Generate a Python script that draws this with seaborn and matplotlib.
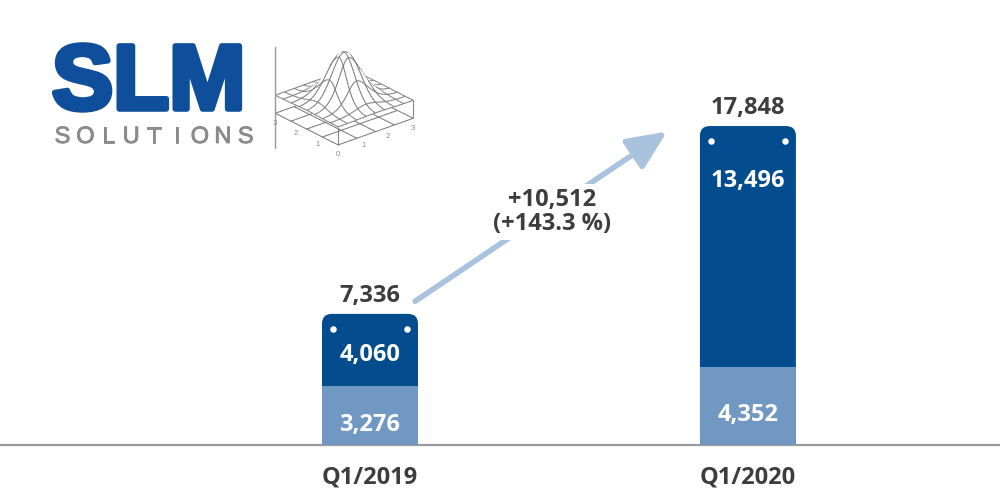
import numpy as np
import pandas as pd
import matplotlib
matplotlib.use("Agg")
import matplotlib.pyplot as plt
import matplotlib.patheffects as pe
import seaborn as sns
from matplotlib.patches import FancyBboxPatch, FancyArrowPatch
from matplotlib.collections import PolyCollection

quarters = ["Q1/2019", "Q1/2020"]
lower_part = [3276, 4352]
upper_part = [4060, 13496]
totals = [a + b for a, b in zip(lower_part, upper_part)]

dark_blue = "#034C8D"
light_blue = "#7198C3"
arrow_blue = "#A9C2DE"
text_grey = "#3D3D3D"
logo_blue = "#0F4E9B"
logo_grey = "#8A8A8A"
mesh_grey = "#7A7A7A"

sns.set_theme(style="white")
plt.rcParams["font.family"] = ["Open Sans", "DejaVu Sans"]

fig = plt.figure(figsize=(10, 5), dpi=100)
ax = fig.add_axes([0, 0.11, 1, 0.89])

df = pd.DataFrame({"Quarter": quarters, "Total": totals, "Lower": lower_part})

bar_w = 0.254
sns.barplot(data=df, x="Quarter", y="Total", color=dark_blue, width=bar_w,
            saturation=1, ax=ax)
# swap the dark bars for ones with rounded tops
for p in list(ax.patches):
    x0, y0 = p.get_x(), p.get_y()
    w, h = p.get_width(), p.get_height()
    p.remove()
    ax.add_patch(FancyBboxPatch((x0, y0), w, h,
                                boxstyle="round,pad=0,rounding_size=0.026",
                                mutation_aspect=21000, fc=dark_blue, ec="none",
                                zorder=2))
sns.barplot(data=df, x="Quarter", y="Lower", color=light_blue, width=bar_w,
            saturation=1, ax=ax, zorder=3)
for p in ax.patches:
    p.set_edgecolor("none")

ax.set_xlim(-0.979, 1.667)
ax.set_ylim(0, 24900)
px_y = 24900 / 445.0

# white dots on the top corners
for i, t in enumerate(totals):
    ax.scatter([i - bar_w / 2 + 0.029, i + bar_w / 2 - 0.029],
               [t - 15 * px_y] * 2, s=22, color="white", zorder=5, linewidths=0)

lbl = dict(ha="center", va="center", fontsize=17, fontweight="bold")
for i in range(len(quarters)):
    ax.text(i, totals[i] + 18 * px_y, f"{totals[i]:,}", color=text_grey, **lbl)
    seg_mid = lower_part[i] + upper_part[i] / 2
    y_up = max(seg_mid - 5 * px_y, totals[i] - 55 * px_y)
    ax.text(i, y_up, f"{upper_part[i]:,}", color="white", zorder=6, **lbl)
    ax.text(i, lower_part[i] / 2 - 9 * px_y, f"{lower_part[i]:,}", color="white",
            zorder=6, **lbl)

# growth arrow
diff = totals[1] - totals[0]
pct = diff / totals[0] * 100
arrow = FancyArrowPatch((0.113, totals[0] + 11 * px_y), (0.792, totals[1] - 4 * px_y),
                        arrowstyle="-|>,head_length=1.0,head_width=0.45",
                        mutation_scale=24, lw=4, color=arrow_blue, zorder=1)
ax.add_patch(arrow)
ax.text(0.483, totals[1] - 86 * px_y, f"+{diff:,}\n(+{pct:.1f} %)", ha="center",
        va="center", fontsize=17, fontweight="bold", color=text_grey,
        linespacing=1.05, zorder=4,
        bbox=dict(boxstyle="square,pad=0.15", fc="white", ec="none"))

for s in ["top", "left", "right"]:
    ax.spines[s].set_visible(False)
ax.spines["bottom"].set_color("#9A9A9A")
ax.spines["bottom"].set_linewidth(1.6)
ax.set_yticks([])
ax.set_xlabel("")
ax.set_ylabel("")
ax.tick_params(axis="x", length=0, pad=15, labelsize=17, labelcolor=text_grey)
for t in ax.get_xticklabels():
    t.set_fontweight("bold")

# ---- logo ----
fig.text(0.052, 0.782, "SLM", fontsize=66, fontweight="bold", color=logo_blue,
         family="Liberation Sans", ha="left", va="baseline",
         path_effects=[pe.withStroke(linewidth=4, foreground=logo_blue)])
for k, ch in enumerate("SOLUTIONS"):
    fig.text(0.0625 + k * 0.0229, 0.714, ch, fontsize=17, color=logo_grey,
             family="Liberation Sans", ha="center", va="baseline",
             path_effects=[pe.withStroke(linewidth=0.6, foreground=logo_grey)])
fig.add_artist(plt.Line2D([0.275, 0.275], [0.704, 0.906], color="#999999", lw=1))

# small wireframe bump, projected by hand (painter's algorithm)
el, az = np.radians(25), np.radians(-40)
view = np.array([np.cos(el) * np.cos(az), np.cos(el) * np.sin(az), np.sin(el)])
right = np.array([-np.sin(az), np.cos(az), 0.0])
up = np.array([-np.sin(el) * np.cos(az), -np.sin(el) * np.sin(az), np.cos(el)])

polys, depths, fcs, ecs = [], [], [], []


def add(pts, fc, ec, bias):
    pts = np.asarray(pts, dtype=float)
    polys.append(np.c_[pts @ right, pts @ up])
    depths.append((pts @ view).mean() + bias)
    fcs.append(fc)
    ecs.append(ec)


# membrane pulled up in the middle: grid pinches towards the peak
n = 48
g = np.linspace(-3, 3, n + 1)
U, V = np.meshgrid(g, g)
pinch = 1 - 0.6 * np.exp(-(U ** 2 + V ** 2) / 2.2)
X, Y = U * pinch, V * pinch
P = np.dstack([X, Y, 1.22 + 3.1 * np.exp(-(X ** 2 + Y ** 2) / 2.0)])
for i in range(n):
    for j in range(n):
        add([P[i, j], P[i, j + 1], P[i + 1, j + 1], P[i + 1, j]], "white", "white", 0)
for k in range(0, n + 1, 6):
    for j in range(n):
        add([P[k, j], P[k, j + 1]], "none", mesh_grey, 0.25)
        add([P[j, k], P[j + 1, k]], "none", mesh_grey, 0.25)
t = np.linspace(-3, 3, 17)
for v in np.linspace(-3, 3, 5):
    for a, b in zip(t[:-1], t[1:]):
        add([(v, a, 0), (v, b, 0)], "none", mesh_grey, 0.25)
        add([(a, v, 0), (b, v, 0)], "none", mesh_grey, 0.25)
for ci, cj in [(0, n), (0, 0), (n, n), (n, 0)]:
    top = P[ci, cj]
    zz = np.linspace(0, top[2], 7)
    for a, b in zip(zz[:-1], zz[1:]):
        add([(top[0], top[1], a), (top[0], top[1], b)], "none", mesh_grey, 0.25)

order = np.argsort(depths)
logo_ax = fig.add_axes([0.265, 0.67, 0.16, 0.25])
logo_ax.add_collection(PolyCollection([polys[i] for i in order],
                                      facecolors=[fcs[i] for i in order],
                                      edgecolors=[ecs[i] for i in order],
                                      linewidths=0.75))
for m in range(4):
    q = np.array([3 - 2 * m, -3, 0])
    logo_ax.text(q @ right, q @ up - 0.6, str(m), fontsize=5.5, color=logo_grey,
                 ha="center", va="center", family="Liberation Sans")
for m in range(1, 4):
    q = np.array([3, -3 + 2 * m, 0])
    logo_ax.text(q @ right, q @ up - 0.6, str(m), fontsize=5.5, color=logo_grey,
                 ha="center", va="center", family="Liberation Sans")
logo_ax.set_xlim(-4.85, 4.95)
logo_ax.set_ylim(-3.02, 4.65)
logo_ax.set_axis_off()

fig.savefig("out.png", dpi=100, facecolor="white")
